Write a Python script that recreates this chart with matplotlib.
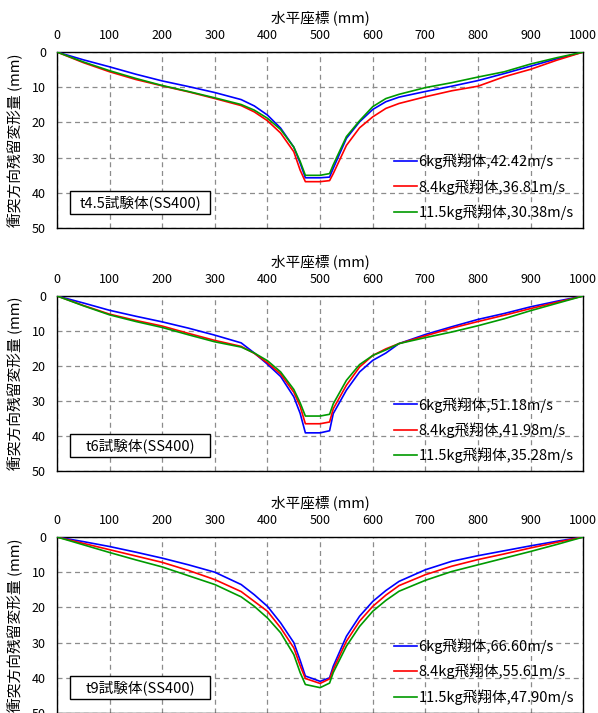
"""
Residual deformation profiles of the t4.5 / t6 / t9 steel plates (SS400)
under projectile impact, three panels stacked vertically.
"""

import matplotlib.pyplot as plt
from matplotlib.patches import Rectangle

plt.rcParams["font.family"] = ["Noto Sans CJK JP", "DejaVu Sans"]

# horizontal coordinate (mm), shared by all series
X_MM = [0, 50, 100, 150, 200, 250, 300, 350, 375, 400, 425, 450, 462, 472,
        500, 518, 525, 550, 575, 600, 625, 650, 700, 750, 800, 850, 900, 950, 1000]

# t4.5 specimen
T45_6KG = [0, 2.2, 4.2, 6.3, 8.2, 9.8, 11.5, 13.5, 15.3, 17.9, 21.6, 27.0, 31.5, 35.7,
           35.7, 35.5, 33.0, 24.5, 19.8, 16.3, 14.1, 12.8, 11.2, 9.7, 8.1, 6.1, 4.0, 1.9, 0]
T45_84KG = [0, 3.0, 5.6, 7.8, 9.6, 11.3, 13.2, 15.2, 17.0, 19.5, 23.0, 28.3, 33.5, 36.8,
            36.8, 36.5, 34.5, 26.5, 21.5, 18.4, 16.0, 14.6, 12.7, 11.0, 9.7, 7.0, 4.9, 2.3, 0]
T45_115KG = [0, 2.8, 5.3, 7.5, 9.5, 11.2, 13.0, 14.9, 16.5, 18.8, 22.0, 27.0, 31.0, 35.0,
             35.0, 34.5, 32.0, 24.0, 19.5, 15.5, 13.2, 12.0, 10.1, 8.7, 7.1, 5.6, 3.4, 1.6, 0]

# t6 specimen
T6_6KG = [0, 2.0, 4.1, 5.8, 7.4, 9.2, 11.2, 13.4, 16.3, 19.5, 23.0, 28.8, 33.5, 39.1,
          39.1, 38.5, 33.6, 26.9, 21.7, 18.4, 16.3, 13.6, 11.0, 8.8, 6.7, 5.0, 3.1, 1.5, 0]
T6_84KG = [0, 2.7, 5.2, 7.0, 8.6, 10.7, 12.7, 14.4, 16.4, 19.1, 22.3, 27.5, 31.5, 36.5,
           36.5, 36.0, 32.2, 25.5, 20.3, 17.0, 15.1, 13.6, 11.4, 9.2, 7.3, 5.5, 3.6, 1.8, 0]
T6_115KG = [0, 2.8, 5.4, 7.3, 9.0, 11.1, 13.1, 14.6, 16.3, 18.5, 21.7, 26.7, 30.5, 34.3,
            34.3, 33.8, 30.8, 24.1, 19.6, 17.0, 15.4, 13.6, 11.9, 10.3, 8.5, 6.5, 4.2, 2.1, 0]

# t9 specimen
T9_6KG = [0, 1.3, 2.7, 4.3, 6.0, 7.9, 10.0, 13.5, 16.4, 19.7, 24.4, 30.0, 35.0, 39.5,
          41.0, 40.0, 36.7, 28.2, 22.5, 18.3, 15.2, 12.6, 9.3, 6.9, 5.3, 3.9, 2.5, 1.2, 0]
T9_84KG = [0, 1.8, 3.6, 5.4, 7.2, 9.5, 12.1, 15.5, 18.3, 21.1, 25.8, 31.5, 36.5, 40.2,
           41.6, 40.3, 37.6, 29.6, 23.9, 19.7, 16.5, 13.8, 10.7, 8.3, 6.4, 4.8, 3.1, 1.5, 0]
T9_115KG = [0, 2.2, 4.4, 6.5, 8.5, 11.0, 13.5, 17.0, 19.7, 23.0, 27.2, 33.4, 38.5, 41.9,
            42.8, 41.5, 38.5, 31.0, 25.4, 21.1, 18.0, 15.4, 12.3, 9.8, 7.9, 6.0, 4.1, 2.1, 0]

PANELS = [
    ("t4.5試験体(SS400)", [T45_6KG, T45_84KG, T45_115KG],
     ["6kg飛翔体,42.42m/s", "8.4kg飛翔体,36.81m/s", "11.5kg飛翔体,30.38m/s"]),
    ("t6試験体(SS400)", [T6_6KG, T6_84KG, T6_115KG],
     ["6kg飛翔体,51.18m/s", "8.4kg飛翔体,41.98m/s", "11.5kg飛翔体,35.28m/s"]),
    ("t9試験体(SS400)", [T9_6KG, T9_84KG, T9_115KG],
     ["6kg飛翔体,66.60m/s", "8.4kg飛翔体,55.61m/s", "11.5kg飛翔体,47.90m/s"]),
]
COLORS = ["#0000ff", "#ff0000", "#009a00"]

# axes rectangles in figure fraction (left, bottom, width, height)
AX_RECTS = [
    (0.0953, 0.680, 0.880, 0.247),
    (0.0953, 0.3394, 0.880, 0.2455),
    (0.0953, 0.000, 0.880, 0.2468),
]


def draw_panel(ax, title, series, labels):
    for vals, color, label in zip(series, COLORS, labels):
        ax.plot(X_MM, vals, color=color, linewidth=1.2, label=label, zorder=3)

    ax.set_xlim(0, 1000)
    ax.set_ylim(50, 0)
    ax.set_xticks(range(0, 1001, 100))
    ax.set_yticks(range(0, 51, 10))
    ax.xaxis.tick_top()
    ax.xaxis.set_label_position("top")
    ax.tick_params(axis="both", length=0, labelsize=9)
    ax.tick_params(axis="x", pad=7)
    ax.tick_params(axis="y", pad=8)
    ax.grid(True, color="#8c8c8c", linestyle=(0, (4, 3)), linewidth=0.9, zorder=1)
    for s in ax.spines.values():
        s.set_color("black")
        s.set_linewidth(1.0)

    ax.set_xlabel("水平座標 (mm)", fontsize=10.5, labelpad=5)
    ax.set_ylabel("衝突方向残留変形量 (mm)", fontsize=10.6)
    ax.yaxis.set_label_coords(-0.064, 0.5)

    ax.add_patch(Rectangle((0.0247, 0.08), 0.266, 0.13, transform=ax.transAxes,
                           facecolor="white", edgecolor="black", linewidth=1.0, zorder=4))
    ax.text(0.158, 0.145, title, transform=ax.transAxes, ha="center", va="center",
            fontsize=10.5, zorder=5)

    ax.legend(loc="center left", bbox_to_anchor=(0.64, 0.235), frameon=False,
              fontsize=10.5, handlelength=1.6, handletextpad=0.1,
              labelspacing=0.65, borderpad=0, borderaxespad=0)


def main():
    fig = plt.figure(figsize=(5.98, 7.13), dpi=100)
    for rect, (title, series, labels) in zip(AX_RECTS, PANELS):
        ax = fig.add_axes(rect)
        draw_panel(ax, title, series, labels)
    fig.savefig("out.png", dpi=100)


if __name__ == "__main__":
    main()
